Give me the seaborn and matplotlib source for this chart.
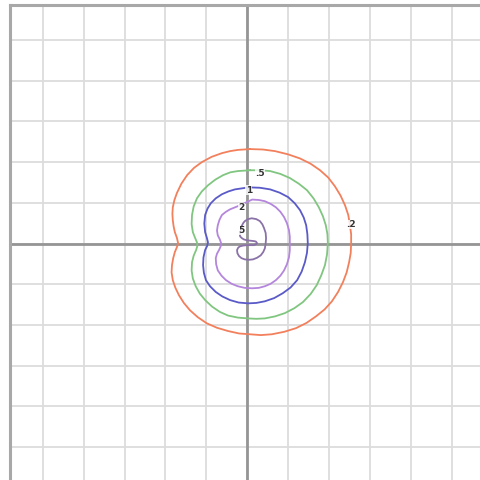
import matplotlib
matplotlib.use("Agg")
import matplotlib.pyplot as plt
import seaborn as sns
import pandas as pd

# contour levels and their traced paths (data units)
levels = [".2", ".5", "1", "2", "5"]
colors = ["#f2805c", "#80c680", "#5a5ac8", "#b486dc", "#8a72a8"]

red_x = [0.07, 0.38, 0.68, 1.00, 1.29, 1.55, 1.78, 1.98, 2.14, 2.28, 2.39, 2.47, 2.51, 2.54, 2.54, 2.53, 2.49, 2.43, 2.34, 2.22, 2.07, 1.89, 1.68, 1.45, 1.19, 0.90, 0.60, 0.33, 0.07, -0.20, -0.47, -0.74, -0.99, -1.21, -1.40, -1.55, -1.67, -1.76, -1.82, -1.85, -1.84, -1.81, -1.77, -1.72, -1.69, -1.72, -1.77, -1.80, -1.82, -1.83, -1.82, -1.78, -1.72, -1.61, -1.47, -1.30, -1.11, -0.87, -0.62, -0.42, -0.23, 0.07]
red_y = [2.32, 2.31, 2.27, 2.19, 2.09, 1.96, 1.80, 1.62, 1.41, 1.18, 0.94, 0.70, 0.45, 0.23, 0.01, -0.23, -0.46, -0.71, -0.95, -1.19, -1.42, -1.62, -1.79, -1.95, -2.08, -2.17, -2.23, -2.25, -2.23, -2.21, -2.15, -2.07, -1.96, -1.81, -1.64, -1.46, -1.27, -1.08, -0.90, -0.71, -0.53, -0.36, -0.21, -0.09, 0.01, 0.14, 0.28, 0.42, 0.57, 0.73, 0.89, 1.07, 1.24, 1.47, 1.68, 1.86, 2.00, 2.13, 2.22, 2.27, 2.30, 2.32]

green_x = [0.07, 0.32, 0.56, 0.81, 1.04, 1.26, 1.46, 1.62, 1.75, 1.85, 1.92, 1.96, 1.97, 1.95, 1.90, 1.81, 1.70, 1.55, 1.36, 1.15, 0.92, 0.68, 0.43, 0.22, 0.02, -0.23, -0.47, -0.67, -0.86, -1.02, -1.16, -1.26, -1.33, -1.36, -1.35, -1.31, -1.25, -1.22, -1.23, -1.28, -1.33, -1.36, -1.35, -1.31, -1.23, -1.11, -0.96, -0.78, -0.59, -0.41, -0.23, 0.07]
green_y = [1.80, 1.80, 1.78, 1.71, 1.61, 1.47, 1.31, 1.11, 0.89, 0.67, 0.45, 0.23, 0.01, -0.27, -0.53, -0.78, -1.02, -1.24, -1.44, -1.59, -1.71, -1.79, -1.84, -1.85, -1.84, -1.82, -1.77, -1.68, -1.55, -1.40, -1.23, -1.05, -0.86, -0.66, -0.46, -0.30, -0.16, -0.06, 0.03, 0.15, 0.28, 0.48, 0.70, 0.91, 1.11, 1.28, 1.43, 1.57, 1.68, 1.75, 1.78, 1.80]

blue_x = [0.04, 0.31, 0.56, 0.79, 1.00, 1.16, 1.29, 1.38, 1.44, 1.47, 1.48, 1.46, 1.41, 1.33, 1.22, 1.06, 0.87, 0.66, 0.43, 0.22, 0.02, -0.21, -0.42, -0.61, -0.77, -0.91, -1.01, -1.06, -1.08, -1.07, -1.03, -0.98, -0.96, -0.99, -1.03, -1.05, -1.03, -0.97, -0.89, -0.77, -0.62, -0.46, -0.30, 0.04]
blue_y = [1.38, 1.37, 1.33, 1.25, 1.14, 0.99, 0.82, 0.64, 0.45, 0.23, 0.01, -0.23, -0.46, -0.69, -0.90, -1.08, -1.22, -1.34, -1.42, -1.46, -1.47, -1.45, -1.39, -1.30, -1.19, -1.05, -0.90, -0.72, -0.53, -0.34, -0.16, -0.06, 0.03, 0.15, 0.28, 0.49, 0.70, 0.86, 0.99, 1.11, 1.21, 1.28, 1.33, 1.38]

purple_x = [-0.15, 0.12, 0.28, 0.43, 0.58, 0.70, 0.81, 0.90, 0.97, 1.02, 1.04, 1.04, 1.04, 1.02, 0.97, 0.90, 0.81, 0.70, 0.57, 0.43, 0.28, 0.12, -0.06, -0.23, -0.38, -0.52, -0.63, -0.72, -0.76, -0.77, -0.74, -0.69, -0.65, -0.64, -0.67, -0.72, -0.74, -0.72, -0.68, -0.62, -0.52, -0.42, -0.15]
purple_y = [0.95, 1.08, 1.07, 1.04, 0.97, 0.89, 0.78, 0.65, 0.50, 0.33, 0.17, 0.01, -0.17, -0.34, -0.51, -0.66, -0.79, -0.90, -0.99, -1.05, -1.09, -1.10, -1.09, -1.05, -0.99, -0.90, -0.79, -0.66, -0.51, -0.36, -0.25, -0.16, -0.07, 0.01, 0.10, 0.20, 0.32, 0.45, 0.58, 0.70, 0.78, 0.84, 0.95]

inner_x = [-0.14, -0.10, -0.06, 0.02, 0.11, 0.22, 0.31, 0.37, 0.41, 0.45, 0.46, 0.45, 0.43, 0.39, 0.33, 0.24, 0.14, 0.04, -0.06, -0.14, -0.20, -0.24, -0.25, -0.22, -0.18, -0.10, -0.01, 0.08, 0.16, 0.21, 0.24, 0.21, 0.16, 0.07, -0.01, -0.08, -0.13, -0.17, -0.18, -0.17, -0.16, -0.14]
inner_y = [0.42, 0.50, 0.55, 0.60, 0.62, 0.60, 0.55, 0.47, 0.38, 0.26, 0.13, 0.00, -0.12, -0.21, -0.29, -0.35, -0.39, -0.40, -0.39, -0.36, -0.31, -0.24, -0.16, -0.10, -0.07, -0.05, -0.04, -0.04, -0.04, -0.02, 0.01, 0.05, 0.06, 0.07, 0.08, 0.10, 0.13, 0.17, 0.20, 0.25, 0.30, 0.42]

label_x = [2.54, 0.32, 0.04, -0.15, -0.15]
label_y = [0.47, 1.72, 1.31, 0.88, 0.32]

grid_ticks = list(range(-5, 6))

paths_x = [red_x, green_x, blue_x, purple_x, inner_x]
paths_y = [red_y, green_y, blue_y, purple_y, inner_y]

sns.set_style("white")
fig = plt.figure(figsize=(4.8, 4.8), dpi=100)
ax = fig.add_axes([10 / 480, 0.0, 470 / 480, 475 / 480])

ax.set_xlim(-5.80, 5.69)
ax.set_ylim(-5.81, 5.86)
ax.set_xticks(grid_ticks)
ax.set_yticks(grid_ticks)
ax.grid(True, color="#dcdcdc", lw=1.3)
ax.set_axisbelow(True)
ax.tick_params(length=0, labelbottom=False, labelleft=False)
ax.axhline(0, color="#959595", lw=2.0, zorder=1)
ax.axvline(0, color="#959595", lw=2.0, zorder=1)

for s in ["right", "bottom"]:
    ax.spines[s].set_visible(False)
for s in ["left", "top"]:
    ax.spines[s].set_color("#a8a8a8")
    ax.spines[s].set_linewidth(2.2)

for px, py, c in zip(paths_x, paths_y, colors):
    df = pd.DataFrame({"x": px, "y": py})
    sns.lineplot(data=df, x="x", y="y", sort=False, estimator=None,
                 color=c, lw=1.3, ax=ax, zorder=3,
                 solid_joinstyle="round", solid_capstyle="round")

for lx, ly, t in zip(label_x, label_y, levels):
    ax.text(lx, ly, t, fontsize=6.5, fontweight="bold", color="#333333",
            ha="center", va="center", zorder=4,
            bbox=dict(fc="white", ec="none", pad=0.2, alpha=0.8))

ax.set_xlabel("")
ax.set_ylabel("")
fig.savefig("out.png", dpi=100)
